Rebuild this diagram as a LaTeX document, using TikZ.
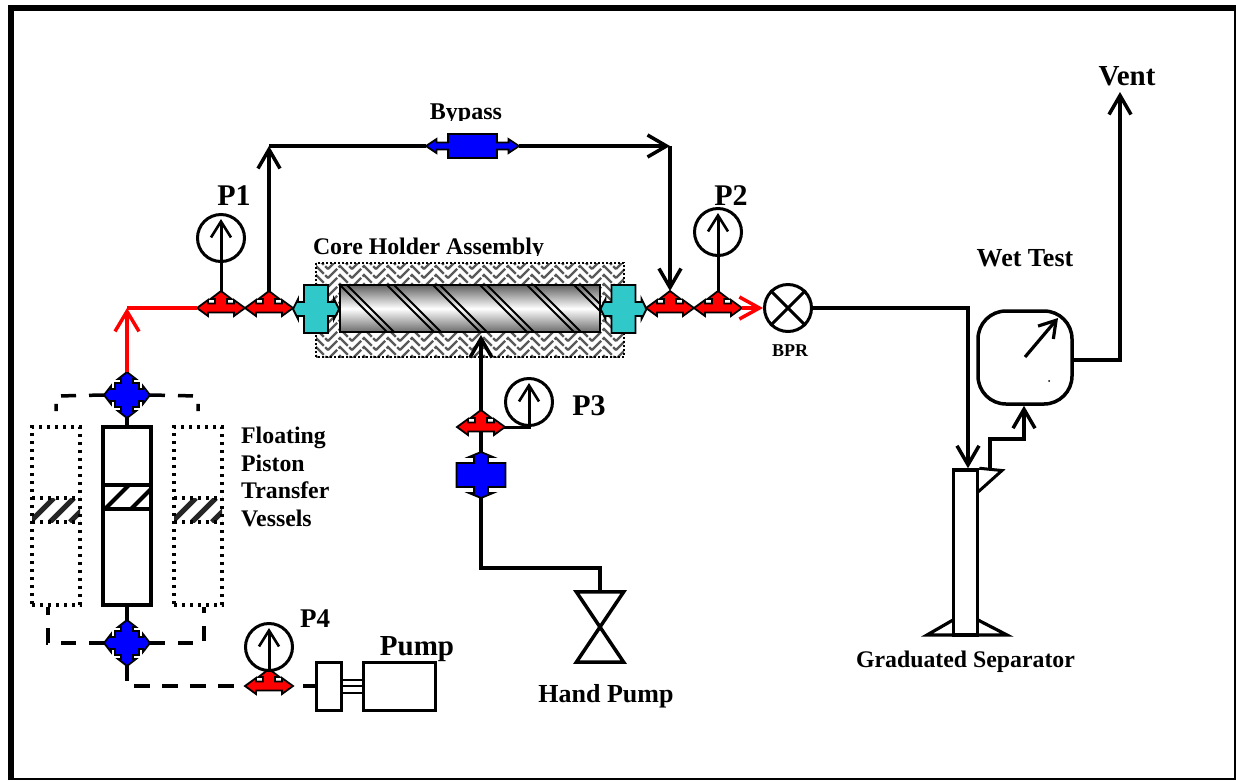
\documentclass[tikz,border=0pt]{standalone}
\usepackage{fontspec}
\setmainfont{Liberation Serif}
\usetikzlibrary{arrows.meta}
\newcommand{\lbl}[1]{\fontsize{#1}{#1}\selectfont\bfseries}
\definecolor{cyanv}{RGB}{48,200,200}
\tikzset{
  x=1pt,y=-1pt,
  pipe/.style={draw=black,line width=3.5pt,line join=miter},
  redpipe/.style={draw=red,line width=3.5pt,line join=miter},
  thinpipe/.style={draw=black,line width=3pt},
  dashpipe/.style={draw=black,line width=3.5pt,dash pattern=on 15pt off 13pt},
  dotbox/.style={draw=black,line width=3.2pt,dash pattern=on 3.2pt off 4.8pt},
  barb/.style={-{Straight Barb[length=19pt,width=22pt,line width=3.5pt]}},
  smallbarb/.style={-{Straight Barb[length=16pt,width=20pt,line width=2.6pt]}},
  outline/.style={draw=black,line width=1.8pt,line join=miter},
  label/.style={inner sep=0pt,text=black,align=left},
  teevalve/.pic={
    \path[outline,fill=red] (-24,0)--(-13,-8)--(-13,-4.5)--(-6,-4.5)--(-6,-9)--(-10.5,-9)--(0,-17)--(10.5,-9)--(6,-9)--(6,-4.5)--(13,-4.5)--(13,-8)--(24,0)--(13,8)--(13,4.5)--(-13,4.5)--(-13,8)--cycle;
    \coordinate (-w) at (-24,0); \coordinate (-e) at (24,0); \coordinate (-n) at (0,-17); \coordinate (-s) at (0,4.5);},
  crossvalve/.pic={
    \path[outline,fill=blue] (-12,-12)--(-6,-12)--(-6,-16)--(-9,-16)--(0,-23)--(9,-16)--(6,-16)--(6,-12)--(12,-12)--(12,-6)--(16,-6)--(16,-9)--(23,0)--(16,9)--(16,6)--(12,6)--(12,12)--(6,12)--(6,16)--(9,16)--(0,23)--(-9,16)--(-6,16)--(-6,12)--(-12,12)--(-12,6)--(-16,6)--(-16,9)--(-23,0)--(-16,-9)--(-16,-6)--(-12,-6)--cycle;
    \coordinate (-w) at (-23,0); \coordinate (-e) at (23,0); \coordinate (-n) at (0,-23); \coordinate (-s) at (0,23);},
  bluevalve/.pic={
    \path[outline,fill=blue] (-24.5,-12)--(-7,-12)--(-7,-18)--(-12,-18)--(0,-23)--(12,-18)--(7,-18)--(7,-12)--(24.5,-12)--(24.5,12)--(7,12)--(7,18)--(12,18)--(0,23)--(-12,18)--(-7,18)--(-7,12)--(-24.5,12)--cycle;
    \coordinate (-n) at (0,-23); \coordinate (-s) at (0,23);},
  bypassvalve/.pic={
    \path[outline,fill=blue] (-24.5,-12)--(24.5,-12)--(24.5,-3.5)--(36,-3.5)--(36,-7)--(46.5,0)--(36,7)--(36,3.5)--(24.5,3.5)--(24.5,12)--(-24.5,12)--(-24.5,3.5)--(-36,3.5)--(-36,7)--(-46.5,0)--(-36,-7)--(-36,-3.5)--(-24.5,-3.5)--cycle;
    \coordinate (-w) at (-46.5,0); \coordinate (-e) at (46.5,0);},
  cyanvalve/.pic={
    \path[outline,fill=cyanv] (-12,-24)--(12,-24)--(12,-7)--(18,-7)--(18,-10)--(23,0)--(18,10)--(18,7)--(12,7)--(12,24)--(-12,24)--(-12,7)--(-18,7)--(-18,10)--(-23,0)--(-18,-10)--(-18,-7)--(-12,-7)--cycle;},
  gauge/.pic={
    \node[circle,draw=black,line width=3pt,minimum size=47pt,inner sep=0pt,fill=white] (-c) at (0,0) {};
    \coordinate (-tip) at (0,-19);},
}
\begin{document}
\begin{tikzpicture}
\useasboundingbox (0,0) rectangle (1236,780);
\fill[white] (0,0) rectangle (1236,780);
% frame
\draw[black,line width=6pt] (11,780) -- (11,8) -- (1236,8);
\draw[black,line width=1.6pt] (1235,8) -- (1235,779) -- (11,779);

% hatched insulation
\begin{scope}
\clip (316,263) rectangle (624,357);
\foreach \r in {0,...,12}{
  \pgfmathsetmacro{\yy}{248+\r*9}
  \foreach \k in {0,...,14}{
    \pgfmathsetmacro{\xa}{304+\k*24}
    \draw[black!65,line width=2.4pt,dash pattern=on 13pt off 2pt] (\xa,\yy+12) -- (\xa+12,\yy) -- (\xa+24,\yy+12);
  }
}
\end{scope}
\draw[black,line width=1.5pt,dash pattern=on 2pt off 2pt] (316,263) rectangle (624,357);

% core
\shade[top color=black!62,bottom color=black!58,middle color=white] (340,285) rectangle (600,332);
\begin{scope}
\clip (340,285) rectangle (600,332);
\foreach \xo in {340,387,433,480,527,574}{
  \draw[black,line width=1.9pt] (\xo,285) -- (\xo+47,332);
  \draw[black,line width=1.9pt] (\xo+7,285) -- (\xo+54,332);
}
\end{scope}
\draw[black,line width=2.5pt] (340,285) rectangle (600,332);

% valves
\pic (cyl) at (316,309) {cyanvalve};
\pic (cyr) at (623.5,309) {cyanvalve};
\pic (t1) at (221,308) {teevalve};
\pic (t2) at (269,308) {teevalve};
\pic (t3) at (670,308) {teevalve};
\pic (t4) at (718,308) {teevalve};
\pic (t5) at (481,427) {teevalve};
\pic (t6) at (269,686) {teevalve};
\pic (x1) at (127,395) {crossvalve};
\pic (x2) at (127,643) {crossvalve};
\pic (bv) at (481,475) {bluevalve};
\pic (by) at (472.5,146) {bypassvalve};

% gauges
\pic (g1) at (221,238) {gauge};
\pic (g2) at (718,232) {gauge};
\pic (g3) at (529,402) {gauge};
\pic (g4) at (269,647) {gauge};

% gauge stems
\draw[thinpipe,smallbarb] (t1-n) -- (g1-tip);
\draw[thinpipe,smallbarb] (t4-n) -- (g2-tip);
\coordinate (g3low) at (529,427);
\draw[thinpipe,line cap=rect] (t5-e) -- (g3low);
\draw[thinpipe,smallbarb] (g3low) -- (g3-tip);
\draw[thinpipe,smallbarb] (t6-n) -- (g4-tip);

% red line
\coordinate (rb) at (127,308);
\draw[redpipe,-{Straight Barb[length=20pt,width=24pt,line width=3.5pt]}] (x1-n) -- (rb);
\draw[redpipe] (rb) -- (t1-w);

% BPR
\node[circle,draw=black,line width=3pt,minimum size=47pt,inner sep=0pt] (bpr) at (788,308) {};
\draw[black,line width=3pt] (bpr.north west) -- (bpr.south east);
\draw[black,line width=3pt] (bpr.north east) -- (bpr.south west);
\draw[redpipe,-{Straight Barb[length=20pt,width=22pt,line width=3.5pt]}] (t4-e) -- (bpr.west);

% bypass
\coordinate (bya) at (269,146);
\coordinate (byb) at (670,146);
\draw[pipe,barb] (t2-n) -- (bya);
\draw[pipe] (bya) -- (by-w);
\draw[pipe,barb] (by-e) -- (byb);
\draw[pipe,barb] (byb) -- (t3-n);

% P3 line and hand pump
\coordinate (coreb) at (481,335);
\draw[pipe,barb] (t5-n) -- (coreb);
\draw[pipe] (t5-s) -- (bv-n);
\coordinate (hb1) at (481,568);
\node[inner sep=0pt,minimum width=47pt,minimum height=70pt] (hp) at (600,627) {};
\draw[thinpipe,line width=3.2pt,line join=miter] (bv-s) -- (hb1) -- (hp.north |- hb1) -- (hp.north);
\draw[black,line width=3.5pt,line join=miter] (hp.north west) -- (hp.north east) -- (hp.south west) -- (hp.south east) -- cycle;

% separator
\node[draw=black,line width=3.5pt,inner sep=0pt,minimum width=24pt,minimum height=165pt] (sep) at (965.5,552.5) {};
\coordinate (septr) at (1002,470.5);
\coordinate (sepb) at (978,492);
\draw[black,line width=3pt,line join=miter] (sep.north east) -- (septr) -- (sepb);
\coordinate (sbl) at (927,635);
\coordinate (sbr) at (1007,635);
\coordinate (stl) at (953,620);
\coordinate (str) at (978,620);
\draw[black,line width=3.2pt,line join=miter] (stl) -- (sbl) -- (sbr) -- (str);

% wet test
\node[draw=black,line width=3.5pt,rounded corners=28pt,inner sep=0pt,minimum width=94pt,minimum height=93pt] (wt) at (1025,357.5) {};
\coordinate (wa) at (1025,357);
\coordinate (wb) at (1058,318);
\draw[thinpipe,line width=3.2pt,-{Straight Barb[length=16pt,width=20pt,line width=3.2pt]}] (wa) -- (wb);
\fill[black] (1049,381) circle (1pt);

% BPR to separator
\coordinate (b1) at (968,308);
\draw[pipe,barb] (bpr.east) -- (b1) -- (sep.north -| b1);

% separator to wet test
\coordinate (o0) at (990,470);
\coordinate (o1) at (990,439);
\coordinate (o2) at (1024,439);
\draw[pipe,barb] (o0) -- (o1) -- (o2) -- (wt.south -| o2);

% vent
\coordinate (v1) at (1120,360);
\coordinate (v2) at (1120,92);
\draw[pipe,barb] (wt.east |- v1) -- (v1) -- (v2);

% vessels
\begin{scope}
\clip (103,485) rectangle (151,509);
\foreach \xo in {105,131}{\draw[black,line width=4pt] (\xo,509) -- (\xo+24,485);}
\end{scope}
\begin{scope}
\clip (32,498) rectangle (80,522);
\foreach \xo in {30,50,70}{\draw[black!85,line width=5pt] (\xo,522) -- (\xo+24,498);}
\end{scope}
\begin{scope}
\clip (174,498) rectangle (222,522);
\foreach \xo in {172,192,212}{\draw[black!85,line width=5pt] (\xo,522) -- (\xo+24,498);}
\end{scope}
\node[draw=black,line width=4pt,inner sep=0pt,minimum width=48pt,minimum height=178pt] (ves) at (127,516) {};
\draw[black,line width=4pt] (103,485) -- (151,485) (103,509) -- (151,509);
\node[dotbox,inner sep=0pt,minimum width=48pt,minimum height=178pt] (vesl) at (56,516) {};
\node[dotbox,inner sep=0pt,minimum width=48pt,minimum height=178pt] (vesr) at (198,516) {};
\draw[dotbox] (32,498) -- (80,498) (32,522) -- (80,522);
\draw[dotbox] (174,498) -- (222,498) (174,522) -- (222,522);

\draw[pipe] (x1-s) -- (ves.north);
\draw[pipe] (ves.south) -- (x2-n);

\coordinate (dl) at (56,396); \coordinate (dr) at (198,396);
\coordinate (dla) at (56,411); \coordinate (dra) at (198,411);
\draw[dashpipe] (x1-w) -- (dl) -- (dla);
\draw[dashpipe] (x1-e) -- (dr) -- (dra);
\coordinate (el) at (48,643); \coordinate (er) at (204,643);
\coordinate (ela) at (48,607); \coordinate (era) at (204,607);
\draw[dashpipe] (x2-w) -- (el) -- (ela);
\draw[dashpipe] (x2-e) -- (er) -- (era);

% pump
\node[draw=black,line width=3pt,inner sep=0pt,minimum width=25pt,minimum height=48pt] (gear) at (328.5,686) {};
\node[draw=black,line width=3pt,inner sep=0pt,minimum width=72pt,minimum height=48pt] (pump) at (399,686) {};
\foreach \dy in {-7,0,6}{\draw[black,line width=2.2pt] ([yshift=\dy pt]gear.east) -- ([yshift=\dy pt]pump.west);}
\coordinate (lp) at (127,681);
\coordinate (gs) at (303,686);
\draw[pipe] (x2-s) -- (lp);
\coordinate (lr) at (134,686);
\draw[dashpipe,dash pattern=on 16pt off 12pt] (lr) -- (t6-w);
\draw[thinpipe,line width=3.5pt] (gs) -- (gear.west);

% labels
\begin{scope}
\clip (420,90) rectangle (510,120.5);
\node[label] (tby) at (466,114) {\lbl{24}Bypass};
\end{scope}
\begin{scope}
\clip (300,225) rectangle (560,255);
\node[label] (tcore) at (428.5,249) {\lbl{23.8}Core Holder Assembly};
\end{scope}
\node[label] (tp1) at (234,196) {\lbl{30}P1};
\node[label] (tp2) at (731,196) {\lbl{30}P2};
\node[label] (tp3) at (589,406) {\lbl{30}P3};
\node[label] (tp4) at (315,619) {\lbl{27}P4};
\node[label] (tpump) at (417,649) {\lbl{29}Pump};
\node[label] (tvent) at (1127,76) {\lbl{29}Vent};
\node[label] (thand) at (606,696) {\lbl{26}Hand Pump};
\node[label] (twet) at (1025,258) {\lbl{26}Wet Test};
\node[label] (tsep) at (965.5,662) {\lbl{23.8}Graduated Separator};
\node[label] (tbpr) at (790,351) {\lbl{18}BPR};
\node[label,anchor=north west,font=\fontsize{23.8}{27.5}\selectfont\bfseries] (tfl) at (241,427) {Floating\\Piston\\Transfer\\Vessels};
\end{tikzpicture}
\end{document}
